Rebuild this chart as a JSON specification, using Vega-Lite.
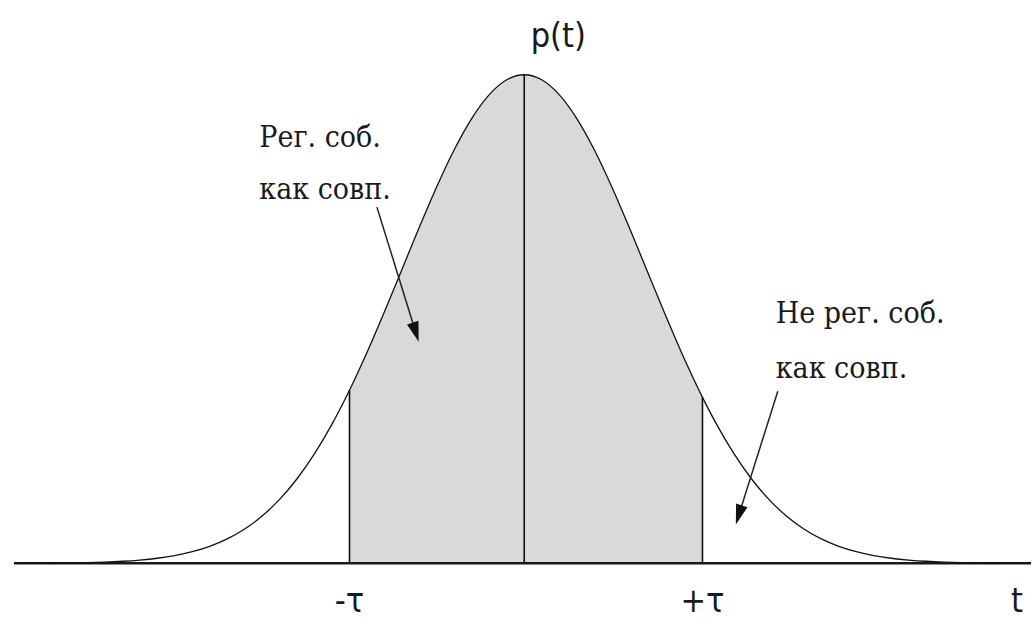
{
  "$schema": "https://vega.github.io/schema/vega-lite/v6.json",
  "width": 1034,
  "height": 620,
  "autosize": {"type": "fit", "contains": "padding"},
  "padding": 0,
  "background": "white",
  "config": {"view": {"stroke": null}},
  "datasets": {
    "curve": [
      {"t": -2.9, "p": 0.0002}, {"t": -2.8, "p": 0.0003}, {"t": -2.7, "p": 0.0005}, {"t": -2.6, "p": 0.0009},
      {"t": -2.5, "p": 0.0015}, {"t": -2.4, "p": 0.0025}, {"t": -2.3, "p": 0.0041}, {"t": -2.2, "p": 0.0066},
      {"t": -2.1, "p": 0.0103}, {"t": -2.0, "p": 0.0157}, {"t": -1.9, "p": 0.0236}, {"t": -1.8, "p": 0.0346},
      {"t": -1.7, "p": 0.0498}, {"t": -1.6, "p": 0.0701}, {"t": -1.5, "p": 0.0967}, {"t": -1.4, "p": 0.1307},
      {"t": -1.3, "p": 0.1730}, {"t": -1.2, "p": 0.2243}, {"t": -1.1, "p": 0.2848}, {"t": -1.0, "p": 0.3541},
      {"t": -0.9, "p": 0.4313}, {"t": -0.8, "p": 0.5146}, {"t": -0.7, "p": 0.6013}, {"t": -0.6, "p": 0.6882},
      {"t": -0.5, "p": 0.7714}, {"t": -0.4, "p": 0.8470}, {"t": -0.3, "p": 0.9108}, {"t": -0.2, "p": 0.9593},
      {"t": -0.1, "p": 0.9897}, {"t": 0.0, "p": 1.0}, {"t": 0.1, "p": 0.9897}, {"t": 0.2, "p": 0.9593},
      {"t": 0.3, "p": 0.9108}, {"t": 0.4, "p": 0.8470}, {"t": 0.5, "p": 0.7714}, {"t": 0.6, "p": 0.6882},
      {"t": 0.7, "p": 0.6013}, {"t": 0.8, "p": 0.5146}, {"t": 0.9, "p": 0.4313}, {"t": 1.0, "p": 0.3541},
      {"t": 1.02, "p": 0.3396},
      {"t": 1.1, "p": 0.2848}, {"t": 1.2, "p": 0.2243}, {"t": 1.3, "p": 0.1730}, {"t": 1.4, "p": 0.1307},
      {"t": 1.5, "p": 0.0967}, {"t": 1.6, "p": 0.0701}, {"t": 1.7, "p": 0.0498}, {"t": 1.8, "p": 0.0346},
      {"t": 1.9, "p": 0.0236}, {"t": 2.0, "p": 0.0157}, {"t": 2.1, "p": 0.0103}, {"t": 2.2, "p": 0.0066},
      {"t": 2.3, "p": 0.0041}, {"t": 2.4, "p": 0.0025}, {"t": 2.5, "p": 0.0015}, {"t": 2.6, "p": 0.0009},
      {"t": 2.7, "p": 0.0005}, {"t": 2.8, "p": 0.0003}, {"t": 2.9, "p": 0.0002}
    ],
    "vlines": [{"t": -1.0, "p": 0.3541}, {"t": 0.0, "p": 1.0}, {"t": 1.02, "p": 0.3396}],
    "baseline": [{"t1": -2.92, "t2": 2.9, "p": 0}],
    "arrows": [
      {"arrow": "left", "t": -0.843, "p": 0.729},
      {"arrow": "left", "t": -0.621, "p": 0.473},
      {"arrow": "right", "t": 1.451, "p": 0.352},
      {"arrow": "right", "t": 1.228, "p": 0.099}
    ],
    "heads": [
      {"t": -0.621, "p": 0.473, "angle": 162.7},
      {"t": 1.228, "p": 0.099, "angle": 197.4}
    ],
    "notes": [
      {"t": -1.516, "p": 0.853, "text": "Рег. соб."},
      {"t": -1.516, "p": 0.745, "text": "как совп."},
      {"t": 1.439, "p": 0.491, "text": "Не рег. соб."},
      {"t": 1.439, "p": 0.379, "text": "как совп."}
    ],
    "labels": [
      {"t": -1.0, "p": -0.1, "text": "-τ"},
      {"t": 1.02, "p": -0.1, "text": "+τ"},
      {"t": 2.82, "p": -0.1, "text": "t"},
      {"t": 0.195, "p": 1.057, "text": "p(t)"}
    ]
  },
  "encoding": {
    "x": {"field": "t", "type": "quantitative", "scale": {"domain": [-3, 2.9], "nice": false, "zero": false}, "axis": null},
    "y": {"field": "p", "type": "quantitative", "scale": {"domain": [-0.11, 1.153], "nice": false, "zero": false}, "axis": null}
  },
  "layer": [
    {
      "data": {"name": "curve"},
      "transform": [{"filter": "datum.t >= -1 && datum.t <= 1.02"}],
      "mark": {"type": "area", "color": "#d9d9d9", "opacity": 1, "interpolate": "monotone"},
      "encoding": {"y2": {"datum": 0}}
    },
    {
      "data": {"name": "baseline"},
      "mark": {"type": "rule", "color": "#1a1a1a", "strokeWidth": 2.5},
      "encoding": {
        "x": {"field": "t1", "type": "quantitative"},
        "x2": {"field": "t2"},
        "y": {"field": "p", "type": "quantitative"}
      }
    },
    {
      "data": {"name": "curve"},
      "mark": {"type": "line", "color": "#111", "strokeWidth": 1.3, "interpolate": "monotone"},
      "encoding": {}
    },
    {
      "data": {"name": "vlines"},
      "mark": {"type": "rule", "color": "#111", "strokeWidth": 1.6},
      "encoding": {"y2": {"datum": 0}}
    },
    {
      "data": {"name": "arrows"},
      "mark": {"type": "line", "color": "#222", "strokeWidth": 1.5},
      "encoding": {"detail": {"field": "arrow"}}
    },
    {
      "data": {"name": "heads"},
      "mark": {"type": "point", "shape": "M0,-1L0.6,1L-0.6,1Z", "filled": true, "color": "#111", "opacity": 1, "size": 400},
      "encoding": {"angle": {"field": "angle", "type": "quantitative", "scale": null}}
    },
    {
      "data": {"name": "notes"},
      "mark": {"type": "text", "align": "left", "baseline": "alphabetic", "font": "DejaVu Serif Condensed, DejaVu Serif", "fontSize": 30, "color": "#1a1a1a"},
      "encoding": {"text": {"field": "text"}}
    },
    {
      "data": {"name": "labels"},
      "mark": {"type": "text", "align": "center", "baseline": "alphabetic", "font": "DejaVu Sans Condensed, sans-serif", "fontSize": 34, "color": "#1a1a1a"},
      "encoding": {"text": {"field": "text"}}
    }
  ]
}
